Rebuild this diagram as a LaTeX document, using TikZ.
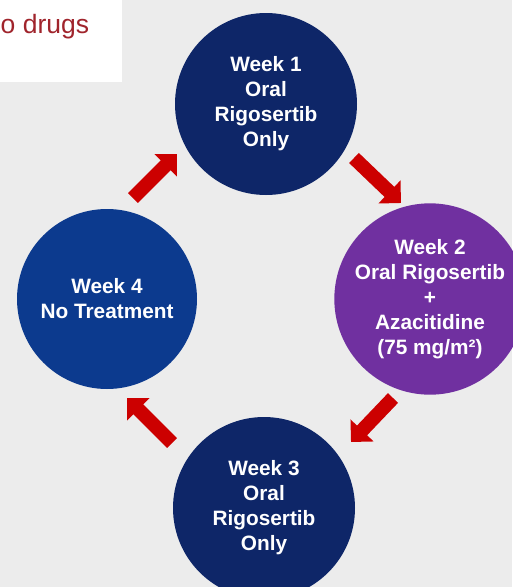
\documentclass[tikz,border=0pt]{standalone}
\usepackage{fontspec}
\setmainfont{Liberation Sans}
\usetikzlibrary{arrows.meta}
\definecolor{bg}{RGB}{236,236,236}
\definecolor{navy}{RGB}{14,38,104}
\definecolor{blue4}{RGB}{12,58,142}
\definecolor{purp}{RGB}{112,48,160}
\definecolor{redarr}{RGB}{204,0,0}
\definecolor{darkred}{RGB}{160,36,44}
\begin{document}
\begin{tikzpicture}[x=1pt,y=-1pt,
  week/.style={circle,minimum size=182pt,inner sep=0pt,text=white,
    font=\fontsize{20.8}{25}\selectfont\bfseries,align=center},
  cyc/.style={line width=14pt,draw=redarr,-{Triangle[width=31pt,length=16pt]}}]
\useasboundingbox (0,0) rectangle (512,587);
\fill[bg] (0,0) rectangle (512,587);
\fill[white] (0,0) rectangle (122,82);
\node[anchor=base west,inner sep=0pt,text=darkred,font=\fontsize{26.5}{30}\selectfont] (note) at (0.5,33) {o drugs};
\node[week,fill=navy] (w1) at (266,104) {Week 1\\Oral\\Rigosertib\\Only};
\node[week,fill=purp,minimum size=180pt] (w2) at (430,299) {Week 2\\Oral Rigosertib\\+\\Azacitidine\\(75 mg/m²)};
\node[week,fill=navy] (w3) at (264,508) {Week 3\\Oral\\Rigosertib\\Only};
\node[week,fill=blue4,minimum size=180pt] (w4) at (107,299) {Week 4\\No Treatment};
\coordinate (a1s) at (354,158); \coordinate (a1e) at (401,203);
\coordinate (a2s) at (393,398); \coordinate (a2e) at (351,442);
\coordinate (a3s) at (172,443); \coordinate (a3e) at (127,398);
\coordinate (a4s) at (133,198); \coordinate (a4e) at (177,154);
\draw[cyc] (a1s) -- (a1e);
\draw[cyc] (a2s) -- (a2e);
\draw[cyc] (a3s) -- (a3e);
\draw[cyc] (a4s) -- (a4e);
\end{tikzpicture}
\end{document}
